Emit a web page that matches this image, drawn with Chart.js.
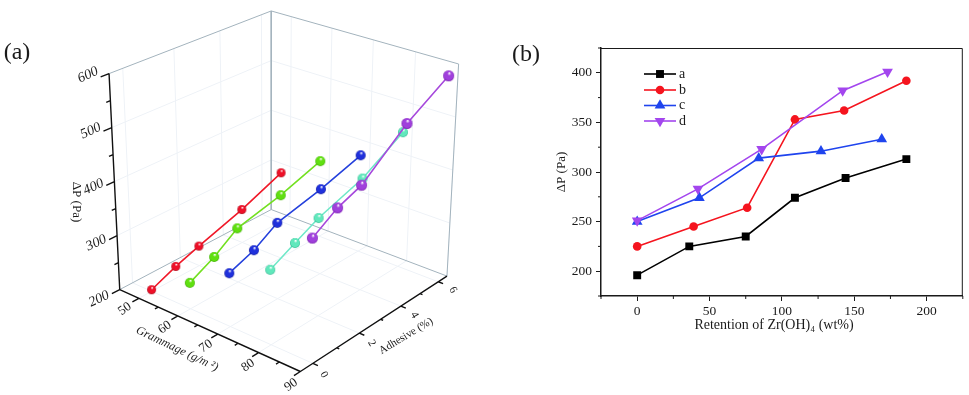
<!DOCTYPE html>
<html>
<head>
<meta charset="utf-8">
<style>
  html, body { margin: 0; padding: 0; background: #fff; }
  #chartA { position: absolute; left: 0; top: 0; }
  #chartB { position: absolute; left: 490px; top: 0; }
</style>
<script src="https://cdn.jsdelivr.net/npm/chart.js@4"></script>
</head>
<body>
<canvas id="chartA" width="490" height="395"></canvas>
<canvas id="chartB" width="479" height="395"></canvas>
<script>
// panel (a): one series per grammage, dP read at each adhesive level
const grammages = [50, 60, 70, 80, 90];
const adhesives = [0, 1, 2, 4, 6];
const dpGram50 = [203, 222, 237, 264, 297];
const dpGram60 = [247, 270, 300, 320, 347];
const dpGram70 = [295, 312, 339, 359, 385];
const dpGram80 = [331, 354, 376, 406, 455];
const dpGram90 = [415, 444, 462, 533, 586];

const gramTicks = [50, 60, 70, 80, 90];
const gramMinor = [55, 65, 75, 85];
const adhesiveTicks = [0, 2, 4, 6];
const adhesiveMinor = [1, 3, 5];
const dpTicks = [200, 300, 400, 500, 600];
const dpMinor = [250, 350, 450, 550];

// panel (b)
const xA = [0, 36, 75, 109, 144, 186];
const yA = [196, 225, 235, 274, 294, 313];
const xB = [0, 39, 76, 109, 143, 186];
const yB = [225, 245, 264, 353, 362, 392];
const xC = [0, 43, 84, 127, 169];
const yC = [250, 274, 314, 321, 333];
const xD = [0, 42, 86, 142, 173];
const yD = [251, 283, 323, 382, 401];
const xTicks = [0, 50, 100, 150, 200];
const yTicks = [200, 250, 300, 350, 400];
const xMinor = [-25, 25, 75, 125, 175, 225];
const yMinor = [175, 225, 275, 325, 375, 425];

const SERIF = "'Liberation Serif', serif";
const INK = "#1a1a1a";

// the box of panel (a) as it sits on the page, [gram low/high][adhesive low/high]
const floorBox = [[[116, 293], [272, 210]], [[302, 378], [453, 279]]];
const topBox = [[[105, 69], [272, 4]], [[300, 134], [465, 59]]];
const GRAM_MIN = 45, GRAM_MAX = 90;
const ADH_MIN = -0.5, ADH_MAX = 6.5;
const DP_MIN = 200, DP_MAX = 600;

// perspective lookup: weights grow with depth so the far ticks bunch up
function project(g, a, p) {
  let u = (g - GRAM_MIN) / (GRAM_MAX - GRAM_MIN);
  let v = (a - ADH_MIN) / (ADH_MAX - ADH_MIN);
  let w = (p - DP_MIN) / (DP_MAX - DP_MIN);
  let sx = 0, sy = 0, sw = 0;
  for (let i = 0; i < 2; i++) {
    for (let j = 0; j < 2; j++) {
      let b = (i ? u : 1 - u) * (j ? v : 1 - v);
      b = b * (1 - 0.05 * i + 0.2 * j);
      let f = floorBox[i][j], t = topBox[i][j];
      sx += b * (f[0] + (t[0] - f[0]) * w);
      sy += b * (f[1] + (t[1] - f[1]) * w);
      sw += b;
    }
  }
  return { x: sx / sw, y: sy / sw };
}

function segments(list) {
  let out = [];
  list.forEach(function (s) {
    out.push(project(s[0], s[1], s[2]), project(s[3], s[4], s[5]), { x: NaN, y: NaN });
  });
  return out;
}

let gridSegs = [];
dpTicks.slice(1, 4).forEach(function (p) {
  gridSegs.push([GRAM_MIN, ADH_MIN, p, GRAM_MIN, ADH_MAX, p]);
  gridSegs.push([GRAM_MIN, ADH_MAX, p, GRAM_MAX, ADH_MAX, p]);
});
gramTicks.forEach(function (g) {
  gridSegs.push([g, ADH_MIN, DP_MIN, g, ADH_MAX, DP_MIN]);
  gridSegs.push([g, ADH_MAX, DP_MIN, g, ADH_MAX, DP_MAX]);
});
adhesiveTicks.forEach(function (a) {
  gridSegs.push([GRAM_MIN, a, DP_MIN, GRAM_MAX, a, DP_MIN]);
  gridSegs.push([GRAM_MIN, a, DP_MIN, GRAM_MIN, a, DP_MAX]);
});

const frameSegs = [
  [GRAM_MIN, ADH_MIN, DP_MAX, GRAM_MIN, ADH_MAX, DP_MAX],
  [GRAM_MIN, ADH_MAX, DP_MAX, GRAM_MAX, ADH_MAX, DP_MAX],
  [GRAM_MAX, ADH_MAX, DP_MAX, GRAM_MAX, ADH_MAX, DP_MIN],
  [GRAM_MIN, ADH_MAX, DP_MAX, GRAM_MIN, ADH_MAX, DP_MIN],
  [GRAM_MIN, ADH_MIN, DP_MIN, GRAM_MIN, ADH_MAX, DP_MIN],
  [GRAM_MIN, ADH_MAX, DP_MIN, GRAM_MAX, ADH_MAX, DP_MIN]
];

let axisSegs = [
  [GRAM_MIN, ADH_MIN, DP_MAX, GRAM_MIN, ADH_MIN, DP_MIN],
  [GRAM_MIN, ADH_MIN, DP_MIN, GRAM_MAX, ADH_MIN, DP_MIN],
  [GRAM_MAX, ADH_MIN, DP_MIN, GRAM_MAX, ADH_MAX, DP_MIN]
];
gramTicks.forEach(function (g) { axisSegs.push([g, ADH_MIN, DP_MIN, g, ADH_MIN - 0.25, DP_MIN]); });
gramMinor.forEach(function (g) { axisSegs.push([g, ADH_MIN, DP_MIN, g, ADH_MIN - 0.13, DP_MIN]); });
adhesiveTicks.forEach(function (a) { axisSegs.push([GRAM_MAX, a, DP_MIN, GRAM_MAX + 1.2, a, DP_MIN]); });
adhesiveMinor.forEach(function (a) { axisSegs.push([GRAM_MAX, a, DP_MIN, GRAM_MAX + 0.6, a, DP_MIN]); });
dpTicks.forEach(function (p) { axisSegs.push([GRAM_MIN, ADH_MIN, p, GRAM_MIN, ADH_MIN - 0.3, p]); });
dpMinor.forEach(function (p) { axisSegs.push([GRAM_MIN, ADH_MIN, p, GRAM_MIN, ADH_MIN - 0.15, p]); });

function sphere(colour, dark, r) {
  let c = document.createElement("canvas");
  c.width = c.height = Math.ceil(2 * r + 2);
  let ctx = c.getContext("2d");
  let m = c.width / 2;
  let g = ctx.createRadialGradient(m + 0.15 * r, m - 0.5 * r, 0.3, m, m, r);
  g.addColorStop(0, "#ffffff");
  g.addColorStop(0.3, colour);
  g.addColorStop(0.8, colour);
  g.addColorStop(1, dark);
  ctx.fillStyle = g;
  ctx.beginPath();
  ctx.arc(m, m, r, 0, Math.PI * 2);
  ctx.fill();
  return c;
}

function seriesA(gram, dp, line, colour, dark, r, order) {
  return {
    data: adhesives.map(function (a, i) { return project(gram, a, dp[i]); }),
    showLine: true,
    borderColor: line,
    borderWidth: 1.6,
    pointStyle: sphere(colour, dark, r),
    pointRadius: r,
    order: order
  };
}

function wire(segs, colour, width, order) {
  return {
    data: segments(segs),
    showLine: true,
    spanGaps: false,
    borderColor: colour,
    borderWidth: width,
    pointRadius: 0,
    order: order
  };
}

function rotatedText(ctx, text, x, y, deg, font) {
  ctx.save();
  ctx.translate(x, y);
  ctx.rotate(deg * Math.PI / 180);
  ctx.font = font;
  ctx.fillStyle = INK;
  ctx.textAlign = "center";
  ctx.textBaseline = "middle";
  ctx.fillText(text, 0, 0);
  ctx.restore();
}

const labelsA = {
  id: "labelsA",
  afterDatasetsDraw(chart) {
    let ctx = chart.ctx;
    dpTicks.forEach(function (p) {
      let q = project(GRAM_MIN, ADH_MIN, p);
      rotatedText(ctx, String(p), q.x - 17, q.y + 6, -25, "italic 14px " + SERIF);
    });
    gramTicks.forEach(function (g) {
      let q = project(g, ADH_MIN, DP_MIN);
      rotatedText(ctx, String(g), q.x - 11, q.y + 7, -35, "13px " + SERIF);
    });
    adhesiveTicks.forEach(function (a) {
      let q = project(GRAM_MAX, a, DP_MIN);
      rotatedText(ctx, String(a), q.x + 9, q.y + 5, 60, "11px " + SERIF);
    });
    rotatedText(ctx, "\u0394P (Pa)", 76, 202, 90, "13px " + SERIF);
    rotatedText(ctx, "Grammage (g/m \u00b2)", 177, 349, 25.5, "italic 12px " + SERIF);
    rotatedText(ctx, "Adhesive (%)", 406, 336, -31, "11px " + SERIF);
    rotatedText(ctx, "(a)", 17, 53, 0, "24px " + SERIF);
  }
};

new Chart("chartA", {
  type: "scatter",
  data: {
    datasets: [
      seriesA(grammages[4], dpGram90, "#a648dc", "#a040dc", "#7a1fb0", 5.5, 1),
      seriesA(grammages[3], dpGram80, "#6fe8c8", "#60e8bc", "#30b890", 5, 2),
      seriesA(grammages[2], dpGram70, "#2440dc", "#1f30dc", "#10189a", 5, 3),
      seriesA(grammages[1], dpGram60, "#72e020", "#60e010", "#3aa800", 5, 4),
      seriesA(grammages[0], dpGram50, "#f01828", "#ee1028", "#a80818", 4.5, 5),
      wire(axisSegs, "#111", 1.4, 6),
      wire(frameSegs, "#a3b3bd", 1, 7),
      wire(gridSegs, "#eef2f7", 1, 8)
    ]
  },
  options: {
    responsive: false,
    animation: false,
    layout: { padding: 0 },
    plugins: { legend: { display: false }, tooltip: { enabled: false } },
    scales: {
      x: { display: false, min: 0, max: 490 },
      y: { display: false, min: 0, max: 395, reverse: true }
    }
  },
  plugins: [labelsA]
});

const seriesB = [
  { name: "a", xs: xA, ys: yA, colour: "#000000", style: "rect", r: 5.6, order: 4 },
  { name: "b", xs: xB, ys: yB, colour: "#f5141e", style: "circle", r: 4.3, order: 3 },
  { name: "c", xs: xC, ys: yC, colour: "#1f44ee", style: "triangle", r: 6.2, order: 2 },
  { name: "d", xs: xD, ys: yD, colour: "#a346ee", style: "triangle", r: 6.2, rot: 180, order: 1 }
];

const decorB = {
  id: "decorB",
  afterDatasetsDraw(chart) {
    let ctx = chart.ctx;
    let area = chart.chartArea;
    let sx = chart.scales.x, sy = chart.scales.y;
    ctx.save();
    ctx.strokeStyle = INK;
    ctx.lineWidth = 1;
    ctx.beginPath();
    ctx.moveTo(area.left, area.top + 0.5);
    ctx.lineTo(area.right - 0.5, area.top + 0.5);
    ctx.lineTo(area.right - 0.5, area.bottom);
    // minor ticks halfway between the labelled ones
    xMinor.forEach(function (v) {
      let px = sx.getPixelForValue(v);
      ctx.moveTo(px, area.bottom);
      ctx.lineTo(px, area.bottom + 3);
    });
    yMinor.forEach(function (v) {
      let py = sy.getPixelForValue(v);
      ctx.moveTo(area.left, py);
      ctx.lineTo(area.left - 3, py);
    });
    ctx.stroke();

    // legend
    [74, 90, 105.5, 121].forEach(function (y, i) {
      let s = seriesB[i];
      ctx.strokeStyle = s.colour;
      ctx.lineWidth = 1.6;
      ctx.beginPath();
      ctx.moveTo(154, y);
      ctx.lineTo(186, y);
      ctx.stroke();
      ctx.fillStyle = s.colour;
      Chart.helpers.drawPoint(ctx, { pointStyle: s.style, radius: s.r, rotation: s.rot || 0, borderWidth: 0 }, 170, y);
      ctx.fillStyle = INK;
      ctx.font = "14px " + SERIF;
      ctx.textAlign = "left";
      ctx.textBaseline = "middle";
      ctx.fillText(s.name, 189, y);
    });
    ctx.font = "24px " + SERIF;
    ctx.textAlign = "left";
    ctx.fillText("(b)", 22, 55);
    ctx.restore();
    rotatedText(ctx, "Retention of Zr(OH)\u2084 (wt%)", 284, 325, 0, "14px " + SERIF);
  }
};

new Chart("chartB", {
  type: "scatter",
  data: {
    datasets: seriesB.map(function (s) {
      return {
        label: s.name,
        data: s.xs.map(function (x, i) { return { x: x, y: s.ys[i] }; }),
        showLine: true,
        borderColor: s.colour,
        borderWidth: 1.6,
        backgroundColor: s.colour,
        pointBorderWidth: 0,
        pointStyle: s.style,
        pointRadius: s.r,
        pointRotation: s.rot || 0,
        order: s.order
      };
    })
  },
  options: {
    responsive: false,
    animation: false,
    layout: { padding: { left: 64, right: 5, top: 48, bottom: 62 } },
    plugins: { legend: { display: false }, tooltip: { enabled: false } },
    scales: {
      x: {
        type: "linear",
        min: -25,
        max: 225,
        grid: { drawOnChartArea: false, color: INK, tickLength: 5 },
        border: { color: INK, width: 1.5 },
        ticks: { maxRotation: 0, color: INK, padding: 2, font: { family: SERIF, size: 13.5 } },
        afterBuildTicks(scale) { scale.ticks = xTicks.map(function (v) { return { value: v }; }); },
        afterFit(scale) { scale.height = 37; }
      },
      y: {
        type: "linear",
        min: 175,
        max: 425,
        grid: { drawOnChartArea: false, color: INK, tickLength: 5 },
        border: { color: INK, width: 1.5 },
        ticks: { color: INK, padding: 4, font: { family: SERIF, size: 13.5 } },
        title: { display: true, text: "\u0394P (Pa)", color: INK, padding: 0, font: { family: SERIF, size: 13 } },
        afterBuildTicks(scale) { scale.ticks = yTicks.map(function (v) { return { value: v }; }); },
        afterFit(scale) { scale.width = 47; }
      }
    }
  },
  plugins: [decorB]
});
</script>
</body>
</html>
